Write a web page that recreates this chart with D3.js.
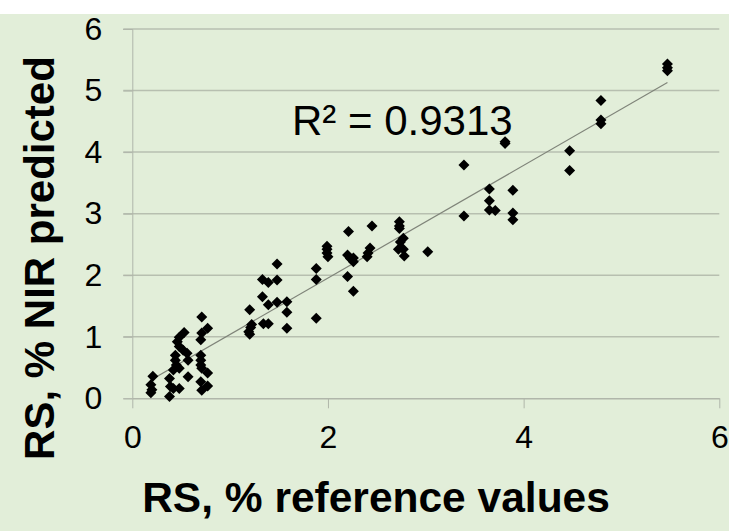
<!DOCTYPE html>
<html>
<head>
<meta charset="utf-8">
<script src="https://cdn.jsdelivr.net/npm/d3@7"></script>
<style>
    body { margin: 0; background: #fff; }
    text { font-family: "Liberation Sans", Arial, sans-serif; fill: #000; }
</style>
</head>
<body>
<script>
// RS reference values vs NIR predicted values
var refValues = [
    0.21, 0.19, 0.20, 0.19,
    0.38, 0.39, 0.42, 0.48, 0.38,
    0.53, 0.48, 0.46, 0.48, 0.52, 0.56, 0.57, 0.44, 0.44, 0.45, 0.48, 0.42, 0.57,
    0.71, 0.77, 0.71, 0.70, 0.70, 0.70, 0.70, 0.71, 0.77, 0.70, 0.77, 0.71,
    1.20, 1.22, 1.21, 1.19, 1.20,
    1.34, 1.39, 1.33, 1.39, 1.48, 1.58, 1.58, 1.58, 1.33, 1.39, 1.48, 1.48,
    1.88, 1.88, 1.88, 1.99, 1.99, 1.99, 2.00,
    2.21, 2.20, 2.23, 2.26, 2.26, 2.20, 2.26,
    2.45, 2.43, 2.41, 2.40,
    2.73, 2.73, 2.73, 2.77, 2.74, 2.72, 2.77, 2.78,
    3.02,
    3.39, 3.39, 3.65, 3.65, 3.65, 3.71, 3.89, 3.89, 3.89, 3.81, 3.81,
    4.47, 4.47, 4.79, 4.79, 4.79, 5.47, 5.47, 5.47
];
var nirPredicted = [
    0.36, 0.22, 0.14, 0.09,
    0.32, 0.19, 0.16, 0.16, 0.03,
    1.07, 0.99, 0.92, 0.84, 0.78, 0.73, 0.62, 0.70, 0.62, 0.54, 0.49, 0.46, 0.35,
    1.32, 1.14, 1.06, 0.95, 0.70, 0.62, 0.54, 0.49, 0.41, 0.27, 0.20, 0.13,
    1.44, 1.20, 1.15, 1.08, 1.04,
    1.21, 1.21, 1.65, 1.52, 1.56, 1.57, 1.40, 1.14, 1.93, 1.88, 1.92, 2.18,
    1.30, 2.11, 1.93, 2.47, 2.42, 2.36, 2.30,
    2.71, 2.33, 2.27, 2.22, 2.28, 1.98, 1.74,
    2.80, 2.44, 2.36, 2.30,
    2.87, 2.80, 2.76, 2.60, 2.54, 2.42, 2.42, 2.31,
    2.38,
    3.79, 2.96, 3.40, 3.21, 3.06, 3.05, 3.38, 3.01, 2.90, 4.17, 4.14,
    4.02, 3.70, 4.84, 4.52, 4.46, 5.43, 5.37, 5.32
];
var xTicks = [0, 2, 4, 6];
var yTicks = [0, 1, 2, 3, 4, 5, 6];
var r2Label = "R\u00b2 = 0.9313";
var xTitle = "RS, % reference values";
var yTitle = "RS, % NIR predicted";

var width = 729, height = 531;
var plot = {left: 132.3, right: 719.3, top: 29, bottom: 398.3};

var svg = d3.select("body").append("svg")
    .attr("width", width)
    .attr("height", height);

// green chart area below a thin white strip
svg.append("rect")
    .attr("x", 0).attr("y", 14)
    .attr("width", width).attr("height", height - 14)
    .attr("fill", "#e2eed9");

var x = d3.scaleLinear().domain([0, 6]).range([plot.left, plot.right]);
var y = d3.scaleLinear().domain([0, 6]).range([plot.bottom, plot.top]);

// horizontal gridlines, with the outside tick on the left
svg.append("g")
    .selectAll("line")
    .data(yTicks.filter(function(d) { return d > 0; }))
    .enter().append("line")
    .attr("x1", plot.left - 9)
    .attr("x2", plot.right)
    .attr("y1", function(d) { return y(d); })
    .attr("y2", function(d) { return y(d); })
    .attr("stroke", "#b7bfb0")
    .attr("stroke-width", 1.5);

// y axis
var yAxis = svg.append("g")
    .attr("transform", "translate(" + plot.left + ",0)")
    .call(d3.axisLeft(y).tickValues(yTicks).tickSize(9).tickPadding(21)
        .tickFormat(d3.format("d")));
yAxis.select(".domain").attr("stroke", "#b0b6aa");
yAxis.selectAll(".tick line").attr("stroke", "#b0b6aa");
yAxis.selectAll("text")
    .attr("font-size", "32px")
    .attr("font-family", "Liberation Sans, Arial, sans-serif")
    .attr("fill", "#000");

// x axis
var xAxis = svg.append("g")
    .attr("transform", "translate(0," + plot.bottom + ")")
    .call(d3.axisBottom(x).tickValues(xTicks).tickSize(10).tickSizeOuter(0)
        .tickPadding(17).tickFormat(d3.format("d")));
xAxis.select(".domain").attr("stroke", "#b0b6aa").attr("stroke-width", 1.5);
xAxis.selectAll(".tick line").attr("stroke", "#b0b6aa");
xAxis.selectAll("text")
    .attr("font-size", "32px")
    .attr("font-family", "Liberation Sans, Arial, sans-serif")
    .attr("fill", "#000");

// linear trendline (least squares)
var pts = refValues.map(function(v, i) { return [v, nirPredicted[i]]; });
var mx = d3.mean(refValues), my = d3.mean(nirPredicted);
var sxy = d3.sum(pts, function(p) { return (p[0] - mx) * (p[1] - my); });
var sxx = d3.sum(pts, function(p) { return (p[0] - mx) * (p[0] - mx); });
var slope = sxy / sxx, intercept = my - slope * mx;
var xExt = d3.extent(refValues);

svg.append("line")
    .attr("x1", x(xExt[0]))
    .attr("y1", y(intercept + slope * xExt[0]))
    .attr("x2", x(xExt[1]))
    .attr("y2", y(intercept + slope * xExt[1]))
    .attr("stroke", "#7f8479")
    .attr("stroke-width", 1.2);

// diamond markers
svg.append("g")
    .selectAll("path")
    .data(pts)
    .enter().append("path")
    .attr("transform", function(d) {
        return "translate(" + x(d[0]) + "," + y(d[1]) + ")";
    })
    .attr("d", "M0,-5.5L5.5,0L0,5.5L-5.5,0Z")
    .attr("fill", "#000");

// R squared label
svg.append("text")
    .attr("x", 292)
    .attr("y", 135)
    .attr("font-size", "42px")
    .text(r2Label);

// axis titles
svg.append("text")
    .attr("x", 376)
    .attr("y", 512)
    .attr("text-anchor", "middle")
    .attr("font-size", "42.5px")
    .attr("font-weight", "bold")
    .text(xTitle);

svg.append("text")
    .attr("transform", "translate(54,258) rotate(-90)")
    .attr("text-anchor", "middle")
    .attr("font-size", "42px")
    .attr("font-weight", "bold")
    .text(yTitle);
</script>
</body>
</html>
